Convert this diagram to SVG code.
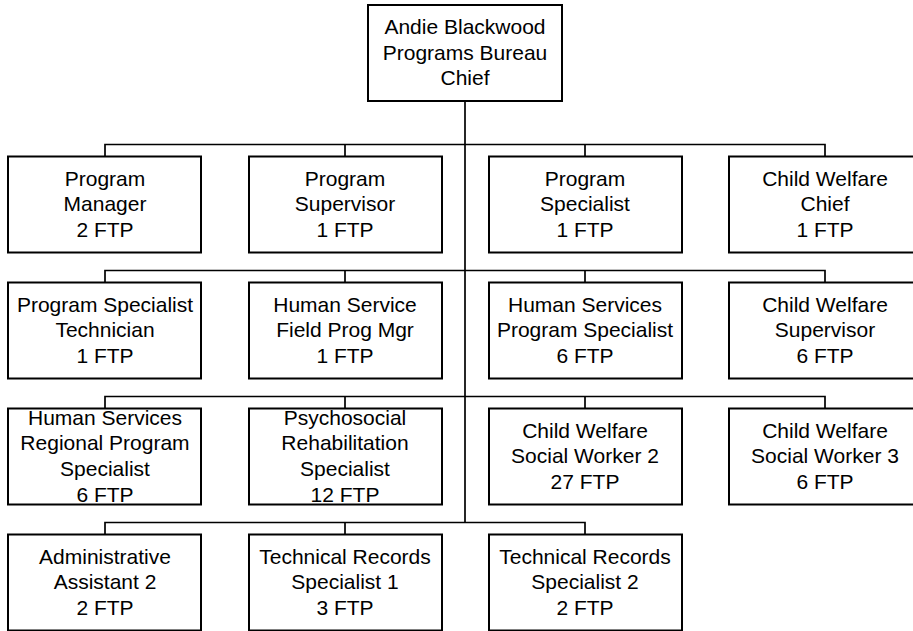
<svg xmlns="http://www.w3.org/2000/svg" width="913" height="631" viewBox="0 0 913 631">
  <style>
    .box { fill: #ffffff; stroke: #000000; stroke-width: 2; }
    .conn { fill: none; stroke: #000000; stroke-width: 1.7; }
    .lbl { font-family: "Liberation Sans", Arial, sans-serif; font-size: 21px; fill: #000000; text-anchor: middle; }
  </style>
  <rect width="913" height="631" fill="#ffffff"/>

  <!-- reporting lines -->
  <g id="connectors">
    <path class="conn" d="M465,101 V522.5"/>
    <path class="conn" d="M105,156.5 V144.5 H825 V156.5 M345,144.5 V156.5 M585,144.5 V156.5"/>
    <path class="conn" d="M105,282.5 V270.5 H825 V282.5 M345,270.5 V282.5 M585,270.5 V282.5"/>
    <path class="conn" d="M105,408.5 V396.5 H825 V408.5 M345,396.5 V408.5 M585,396.5 V408.5"/>
    <path class="conn" d="M105,534.5 V522.5 H585 V534.5 M345,522.5 V534.5"/>
  </g>

  <!-- head of bureau -->
  <g id="chief">
    <rect class="box" x="368" y="5" width="194" height="96"/>
    <text class="lbl" x="465" y="34.1">Andie Blackwood<tspan x="465" dy="25.6">Programs Bureau</tspan><tspan x="465" dy="25.6">Chief</tspan></text>
  </g>

  <!-- row 1 -->
  <g id="program-manager">
    <rect class="box" x="8" y="156.5" width="193" height="96"/>
    <text class="lbl" x="105" y="185.6">Program<tspan x="105" dy="25.6">Manager</tspan><tspan x="105" dy="25.6">2 FTP</tspan></text>
  </g>
  <g id="program-supervisor">
    <rect class="box" x="249" y="156.5" width="193" height="96"/>
    <text class="lbl" x="345" y="185.6">Program<tspan x="345" dy="25.6">Supervisor</tspan><tspan x="345" dy="25.6">1 FTP</tspan></text>
  </g>
  <g id="program-specialist">
    <rect class="box" x="489" y="156.5" width="193" height="96"/>
    <text class="lbl" x="585" y="185.6">Program<tspan x="585" dy="25.6">Specialist</tspan><tspan x="585" dy="25.6">1 FTP</tspan></text>
  </g>
  <g id="child-welfare-chief">
    <rect class="box" x="729" y="156.5" width="193" height="96"/>
    <text class="lbl" x="825" y="185.6">Child Welfare<tspan x="825" dy="25.6">Chief</tspan><tspan x="825" dy="25.6">1 FTP</tspan></text>
  </g>

  <!-- row 2 -->
  <g id="program-specialist-technician">
    <rect class="box" x="8" y="282.5" width="193" height="96"/>
    <text class="lbl" x="105" y="311.6">Program Specialist<tspan x="105" dy="25.6">Technician</tspan><tspan x="105" dy="25.6">1 FTP</tspan></text>
  </g>
  <g id="human-service-field-prog-mgr">
    <rect class="box" x="249" y="282.5" width="193" height="96"/>
    <text class="lbl" x="345" y="311.6">Human Service<tspan x="345" dy="25.6">Field Prog Mgr</tspan><tspan x="345" dy="25.6">1 FTP</tspan></text>
  </g>
  <g id="hs-program-specialist">
    <rect class="box" x="489" y="282.5" width="193" height="96"/>
    <text class="lbl" x="585" y="311.6">Human Services<tspan x="585" dy="25.6">Program Specialist</tspan><tspan x="585" dy="25.6">6 FTP</tspan></text>
  </g>
  <g id="child-welfare-supervisor">
    <rect class="box" x="729" y="282.5" width="193" height="96"/>
    <text class="lbl" x="825" y="311.6">Child Welfare<tspan x="825" dy="25.6">Supervisor</tspan><tspan x="825" dy="25.6">6 FTP</tspan></text>
  </g>

  <!-- row 3 -->
  <g id="hs-regional-program-specialist">
    <rect class="box" x="8" y="408.5" width="193" height="96"/>
    <text class="lbl" x="105" y="424.8">Human Services<tspan x="105" dy="25.6">Regional Program</tspan><tspan x="105" dy="25.6">Specialist</tspan><tspan x="105" dy="25.6">6 FTP</tspan></text>
  </g>
  <g id="psychosocial-rehab-specialist">
    <rect class="box" x="249" y="408.5" width="193" height="96"/>
    <text class="lbl" x="345" y="424.8">Psychosocial<tspan x="345" dy="25.6">Rehabilitation</tspan><tspan x="345" dy="25.6">Specialist</tspan><tspan x="345" dy="25.6">12 FTP</tspan></text>
  </g>
  <g id="cw-social-worker-2">
    <rect class="box" x="489" y="408.5" width="193" height="96"/>
    <text class="lbl" x="585" y="437.6">Child Welfare<tspan x="585" dy="25.6">Social Worker 2</tspan><tspan x="585" dy="25.6">27 FTP</tspan></text>
  </g>
  <g id="cw-social-worker-3">
    <rect class="box" x="729" y="408.5" width="193" height="96"/>
    <text class="lbl" x="825" y="437.6">Child Welfare<tspan x="825" dy="25.6">Social Worker 3</tspan><tspan x="825" dy="25.6">6 FTP</tspan></text>
  </g>

  <!-- row 4 -->
  <g id="administrative-assistant-2">
    <rect class="box" x="8" y="534.5" width="193" height="96"/>
    <text class="lbl" x="105" y="563.6">Administrative<tspan x="105" dy="25.6">Assistant 2</tspan><tspan x="105" dy="25.6">2 FTP</tspan></text>
  </g>
  <g id="technical-records-specialist-1">
    <rect class="box" x="249" y="534.5" width="193" height="96"/>
    <text class="lbl" x="345" y="563.6">Technical Records<tspan x="345" dy="25.6">Specialist 1</tspan><tspan x="345" dy="25.6">3 FTP</tspan></text>
  </g>
  <g id="technical-records-specialist-2">
    <rect class="box" x="489" y="534.5" width="193" height="96"/>
    <text class="lbl" x="585" y="563.6">Technical Records<tspan x="585" dy="25.6">Specialist 2</tspan><tspan x="585" dy="25.6">2 FTP</tspan></text>
  </g>
</svg>
